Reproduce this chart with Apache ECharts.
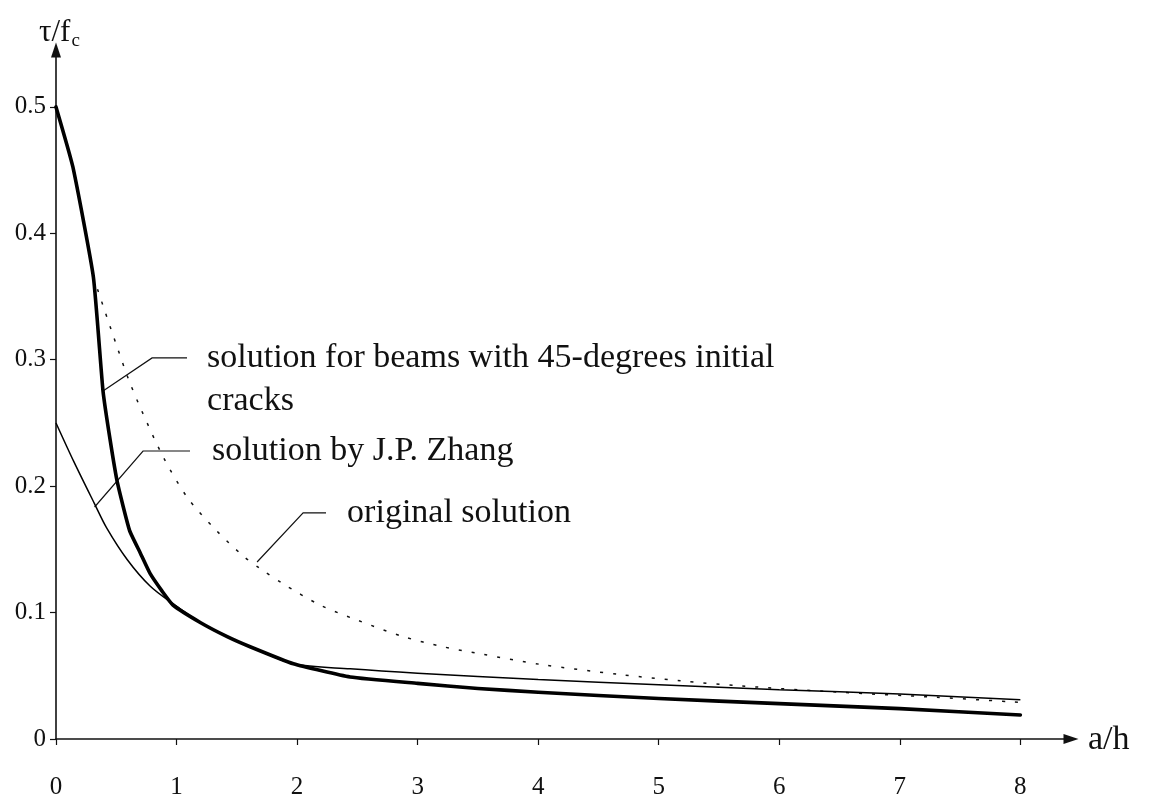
<!DOCTYPE html>
<html>
<head>
<meta charset="utf-8">
<script src="https://cdn.jsdelivr.net/npm/echarts@6/dist/echarts.min.js"></script>
<style>
  html, body { margin: 0; padding: 0; background: #ffffff; }
  #chart { width: 1149px; height: 809px; }
</style>
</head>
<body>
<div id="chart"></div>
<script>
// Shear strength τ/fc against shear span ratio a/h for three solutions.

// solution for beams with 45-degrees initial cracks (thick line)
const crackedX = [0, 0.14, 0.31, 0.39, 0.45, 0.51, 0.61, 0.70, 0.78, 0.88, 0.97, 1.2, 1.42, 1.61, 1.97, 2.44, 3.0, 3.5, 4.0, 5.0, 6.0, 7.0, 8.0];
const crackedY = [0.5, 0.4525, 0.3655, 0.2753, 0.236, 0.2025, 0.165, 0.147, 0.131, 0.117, 0.106, 0.092, 0.081, 0.073, 0.0595, 0.049, 0.044, 0.040, 0.037, 0.032, 0.028, 0.024, 0.019];

// solution by J.P. Zhang (thin line)
const zhangX = [0, 0.15, 0.32, 0.42, 0.59, 0.78, 0.97, 1.2, 1.42, 1.61, 1.97, 2.44, 3.0, 4.0, 5.0, 6.0, 7.0, 8.0];
const zhangY = [0.25, 0.219, 0.186, 0.167, 0.142, 0.121, 0.107, 0.092, 0.081, 0.073, 0.0595, 0.0555, 0.052, 0.047, 0.043, 0.039, 0.0355, 0.031];

// original solution (dotted line)
const originalX = [0.31, 0.40, 0.50, 0.60, 0.70, 0.89, 1.09, 1.32, 1.55, 1.69, 1.88, 2.19, 2.5, 2.88, 3.21, 3.54, 4.02, 4.68, 5.18, 5.68, 6.5, 7.3, 8.0];
const originalY = [0.3655, 0.340, 0.312, 0.285, 0.262, 0.223, 0.191, 0.166, 0.145, 0.135, 0.123, 0.106, 0.094, 0.081, 0.073, 0.067, 0.059, 0.051, 0.046, 0.042, 0.037, 0.033, 0.029];

const xTicks = [0, 1, 2, 3, 4, 5, 6, 7, 8];
const yTicks = [0, 0.1, 0.2, 0.3, 0.4, 0.5];

const seriesNames = [
  'solution for beams with 45-degrees initial cracks',
  'solution by J.P. Zhang',
  'original solution'
];

const FONT = '"Liberation Serif", "DejaVu Serif", serif';
const INK = '#111111';

const pairs = (xs, ys) => xs.map((x, i) => [x, ys[i]]);

const chart = echarts.init(document.getElementById('chart'), null, { renderer: 'canvas' });

const option = {
  animation: false,
  backgroundColor: '#ffffff',
  grid: { left: 56, right: 78, top: 50, bottom: 70, containLabel: false },
  xAxis: {
    type: 'value',
    min: 0,
    max: 8.42,
    splitLine: { show: false },
    axisLine: {
      show: true,
      onZero: false,
      lineStyle: { color: INK, width: 1.7 },
      symbol: ['none', 'triangle'],
      symbolSize: [10, 15]
    },
    axisTick: { show: true, length: 6, lineStyle: { color: INK, width: 1.2 }, customValues: xTicks },
    axisLabel: {
      customValues: xTicks,
      margin: 36,
      color: INK,
      fontFamily: FONT,
      fontSize: 25,
      formatter: v => String(v)
    }
  },
  yAxis: {
    type: 'value',
    min: 0,
    max: 0.545,
    splitLine: { show: false },
    axisLine: {
      show: true,
      onZero: false,
      lineStyle: { color: INK, width: 1.6 },
      symbol: ['none', 'triangle'],
      symbolSize: [10, 15]
    },
    axisTick: { show: true, length: 6, lineStyle: { color: INK, width: 1.2 }, customValues: yTicks },
    axisLabel: {
      customValues: yTicks,
      margin: 10,
      color: INK,
      fontFamily: FONT,
      fontSize: 25,
      formatter: v => (v === 0 ? '0' : v.toFixed(1))
    }
  },
  series: [
    {
      name: seriesNames[0],
      type: 'line',
      data: pairs(crackedX, crackedY),
      symbol: 'none',
      smooth: 0.15,
      z: 4,
      lineStyle: { color: '#000000', width: 3.6, join: 'round', cap: 'round' }
    },
    {
      name: seriesNames[1],
      type: 'line',
      data: pairs(zhangX, zhangY),
      symbol: 'none',
      smooth: 0.3,
      z: 3,
      lineStyle: { color: '#000000', width: 1.5 }
    },
    {
      name: seriesNames[2],
      type: 'line',
      data: pairs(originalX, originalY),
      symbol: 'none',
      smooth: 0.3,
      z: 2,
      lineStyle: { color: '#111111', width: 1.5, type: [3, 10] }
    }
  ]
};

chart.setOption(option);

// Leader lines with their callout text, anchored in data coordinates.
const callouts = [
  {
    leader: [[0.39, 0.2753], [0.797, 0.3014], [1.087, 0.3014]],
    textAt: [1.253, 0.3014],
    lines: ['solution for beams with 45-degrees initial', 'cracks']
  },
  {
    leader: [[0.32, 0.1835], [0.722, 0.2278], [1.112, 0.2278]],
    textAt: [1.295, 0.2278],
    lines: ['solution by J.P. Zhang']
  },
  {
    leader: [[1.668, 0.140], [2.05, 0.1788], [2.24, 0.1788]],
    textAt: [2.415, 0.1788],
    lines: ['original solution']
  }
];

const toPx = p => chart.convertToPixel({ gridIndex: 0 }, p);
const graphics = [];
callouts.forEach(c => {
  graphics.push({
    type: 'polyline',
    silent: true,
    shape: { points: c.leader.map(toPx) },
    style: { stroke: INK, lineWidth: 1.2, fill: null }
  });
  const t = toPx(c.textAt);
  c.lines.forEach((line, i) => {
    graphics.push({
      type: 'text',
      silent: true,
      x: t[0],
      y: t[1] + i * 43,
      style: {
        text: line,
        fill: INK,
        fontFamily: FONT,
        fontSize: 34,
        align: 'left',
        verticalAlign: 'middle'
      }
    });
  });
});

// Axis names: τ/fc at the top of the vertical axis, a/h after the horizontal arrow.
const yTop = toPx([0, 0.545]);
const xEnd = toPx([8.42, 0]);
const measure = document.createElement('canvas').getContext('2d');
measure.font = '31px ' + FONT;
const tauWidth = measure.measureText('τ/f').width;
const nameX = yTop[0] - 17;
graphics.push({
  type: 'text', silent: true, x: nameX, y: yTop[1] - 17,
  style: { text: 'τ/f', fill: INK, fontFamily: FONT, fontSize: 31, align: 'left', verticalAlign: 'middle' }
});
graphics.push({
  type: 'text', silent: true, x: nameX + tauWidth + 1, y: yTop[1] - 9,
  style: { text: 'c', fill: INK, fontFamily: FONT, fontSize: 19, align: 'left', verticalAlign: 'middle' }
});
graphics.push({
  type: 'text', silent: true, x: xEnd[0] + 17, y: xEnd[1] + 1,
  style: { text: 'a/h', fill: INK, fontFamily: FONT, fontSize: 34, align: 'left', verticalAlign: 'middle' }
});

chart.setOption({ graphic: graphics });
</script>
</body>
</html>
